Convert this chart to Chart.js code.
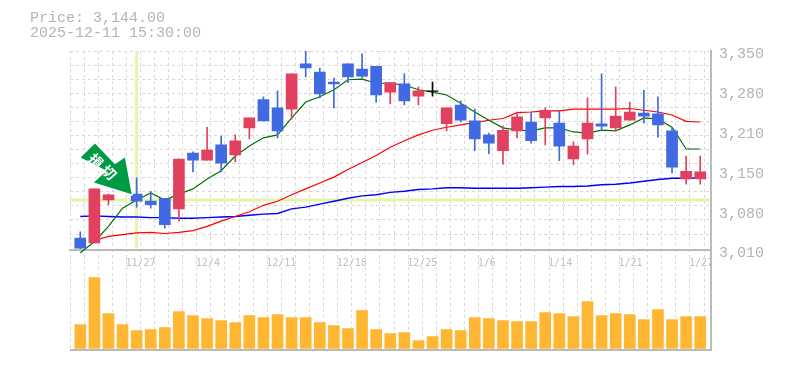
<!DOCTYPE html>
<html>
<head>
<meta charset="utf-8">
<style>html,body{margin:0;padding:0;background:#fff}#w{width:785px;height:370px}</style>
<script src="https://cdn.jsdelivr.net/npm/chart.js@4"></script>
</head>
<body>
<div id="w"><canvas id="c" width="785" height="370"></canvas></div>
<script>
const titleLines = ['Price: 3,144.00', '2025-12-11 15:30:00'];
const opens  = [3031,3023,3096,3115,3106,3094,3099,3081,3176,3164,3190,3173,3219,3267,3253,3251,3328,3314,3297,3328,3319,3324,3280,3294,3273,3282,3226,3258,3231,3207,3180,3214,3229,3236,3227,3166,3200,3226,3219,3232,3244,3243,3214,3132,3132];
const highs  = [3042,3115,3106,3144,3134,3111,3099,3166,3178,3220,3205,3207,3236,3272,3282,3311,3352,3321,3304,3328,3345,3324,3296,3311,3289,3297,3253,3265,3251,3210,3222,3246,3246,3253,3248,3195,3270,3311,3289,3263,3283,3272,3219,3171,3171];
const lows   = [3013,3023,3088,3111,3084,3082,3048,3060,3144,3164,3144,3161,3200,3231,3202,3234,3306,3270,3253,3296,3304,3263,3260,3258,3258,3273,3214,3229,3180,3175,3157,3202,3193,3190,3163,3156,3174,3214,3214,3232,3227,3203,3142,3123,3123];
const closes = [3014,3115,3105,3134,3094,3088,3054,3166,3164,3181,3159,3197,3236,3231,3214,3311,3321,3277,3294,3306,3307,3275,3296,3265,3282,3281,3253,3232,3200,3193,3215,3238,3197,3249,3188,3188,3227,3222,3239,3246,3239,3224,3152,3145,3144];
const maShort = [3006,3025,3051,3082,3096,3108,3096,3106,3115,3132,3146,3171,3188,3202,3207,3236,3263,3272,3284,3301,3302,3295,3295,3292,3284,3280,3275,3261,3246,3232,3219,3215,3214,3219,3219,3212,3210,3215,3214,3224,3236,3234,3220,3183,3183];
const maMid   = [null,3027,3034,3037,3040,3041,3039,3041,3044,3051,3060,3068,3076,3087,3094,3105,3115,3125,3135,3148,3160,3172,3186,3197,3207,3215,3220,3224,3228,3232,3235,3245,3246,3248,3248,3251,3251,3251,3251,3252,3249,3246,3241,3230,3229];
const maLong  = [3068,3069,3068,3067,3067,3066,3066,3065,3065,3066,3067,3068,3070,3072,3073,3081,3084,3089,3094,3099,3103,3105,3109,3111,3114,3115,3117,3117,3116,3116,3116,3116,3117,3118,3119,3119,3120,3122,3123,3125,3128,3131,3133,3133,3134];
const volumes = [24,71,35,24,18,19,21,37,33,30,28,26,33,31,34,31,31,26,23,20,38,19,15,16,8,12,19,18,31,30,28,27,27,36,35,32,47,33,35,34,29,39,29,32,32];
const priceTicks = [3350,3282,3214,3146,3078,3010];
const priceLabels = ['3,350','3,280','3,210','3,150','3,080','3,010'];
const gridPrices = [3350,3326,3302,3278,3254,3230,3206,3182,3158,3134,3110,3086,3062,3038];
const dateLabels = ['11/27','12/4','12/11','12/18','12/25','1/6','1/14','1/21','1/27'];
const markIndex = 4;
const markPrice = 3096;
const arrowLabel = '\u640D\u5207';

const X_MIN = -0.73, X_MAX = 44.73, Y_MIN = 2840.4, Y_MAX = 3350;
const idx = opens.map((_, i) => i);
const RED = '#e2405f', BLUE = '#4169e1', BLACK = '#000';
const candleColor = idx.map(i => Math.abs(closes[i]-opens[i]) <= 1 ? BLACK : (closes[i] > opens[i] ? RED : BLUE));
const MONO = '"Liberation Mono", monospace';

const lineDs = (data, color, width, order, extra) => Object.assign({
  type:'line', data, borderColor:color, borderWidth:width, pointRadius:0, tension:0,
  order, yAxisID:'y', xAxisID:'x', fill:false, spanGaps:false
}, extra||{});

const arrowPlugin = {
  id:'arrow',
  afterDatasetsDraw(chart){
    const ctx = chart.ctx, sx = chart.scales.x, sy = chart.scales.y;
    const tx = sx.getPixelForValue(markIndex) - 5;
    const ty = sy.getPixelForValue(opens[markIndex]);
    const pts = [[-51,-36.7],[-36.7,-50.7],[-16.7,-30],[-6.7,-36.7],[0,0],[-37.7,-11.7],[-25,-23.3]];
    ctx.save();
    ctx.translate(tx,ty);
    ctx.beginPath();
    pts.forEach((p,i)=> i ? ctx.lineTo(p[0],p[1]) : ctx.moveTo(p[0],p[1]));
    ctx.closePath();
    ctx.lineJoin='round';
    ctx.lineWidth=3;
    ctx.strokeStyle='#fff';
    ctx.stroke();
    ctx.fillStyle='#009944';
    ctx.fill();
    ctx.fillStyle='#fff';
    ctx.font='bold 14px "Noto Sans CJK JP"';
    ctx.textAlign='center';
    ctx.textBaseline='middle';
    const centers=[[-35.7,-33.3],[-22.4,-21.7]];
    [...arrowLabel].forEach((ch,i)=>{
      ctx.save();
      ctx.translate(centers[i][0],centers[i][1]);
      ctx.rotate(Math.PI/4);
      ctx.fillText(ch,0,0);
      ctx.restore();
    });
    ctx.restore();
  }
};

new Chart(document.getElementById('c'), {
  type:'bar',
  plugins:[arrowPlugin],
  data:{
    datasets:[
      {label:'body', data:idx.map(i=>({x:i,y:[opens[i],closes[i]]})), backgroundColor:candleColor, barThickness:11, grouped:false, order:1, yAxisID:'y', borderWidth:0},
      {label:'wick', data:idx.map(i=>({x:i,y:[lows[i],highs[i]]})), backgroundColor:candleColor, barThickness:1, grouped:false, order:2, yAxisID:'y', borderWidth:0},
      {label:'volume', data:idx.map(i=>({x:i,y:volumes[i]})), backgroundColor:'#ffb733', barThickness:11, grouped:false, order:3, yAxisID:'y2', borderWidth:0},
      lineDs(idx.map(i=>({x:i,y:maShort[i]})), '#007000', 1.2, 4, {clip:false}),
      lineDs(idx.map(i=>({x:i,y:maMid[i]})), '#ff0000', 1.2, 4),
      lineDs(idx.map(i=>({x:i,y:maLong[i]})), '#0000ff', 1.4, 4),
      lineDs([{x:X_MIN,y:markPrice},{x:X_MAX,y:markPrice}], '#e4f5aa', 3, 6),
      lineDs([{x:markIndex,y:3014},{x:markIndex,y:Y_MAX}], '#e4f5aa', 3, 6),
      lineDs([{x:X_MIN,y:Y_MIN},{x:X_MAX,y:Y_MIN}], '#bbbbbb', 2, 7, {clip:false})
    ]
  },
  options:{
    responsive:false,
    animation:false,
    events:[],
    layout:{padding:{left:30,right:0,top:0,bottom:20}},
    plugins:{
      legend:{display:false},
      tooltip:{enabled:false},
      title:{display:true,text:titleLines,align:'start',color:'#b4b4b4',
        font:{family:MONO,size:15,weight:'normal',lineHeight:1},
        padding:{top:10.5,bottom:10.5}}
    },
    scales:{
      x:{
        type:'linear', min:X_MIN, max:X_MAX, offset:false,
        position:{y:3010},
        afterBuildTicks(s){ s.ticks = Array.from({length:46},(_,k)=>({value:X_MIN+k})).concat([{value:X_MAX}]); },
        grid:{offset:false,color:'#d8d8d8',lineWidth:1,drawTicks:true,tickLength:7,tickColor:'rgba(0,0,0,0)'},
        border:{display:true,color:'#bbbbbb',width:2,dash:[3,3]},
        ticks:{autoSkip:false,maxRotation:0,minRotation:0,padding:0,color:'#c0c0c0',
          font:{family:'"DejaVu Sans Mono", monospace',size:10},
          callback(v,i){ return (i>0 && i%5===0 && dateLabels[i/5-1]) ? dateLabels[i/5-1].padEnd(5,' ') : ''; }}
      },
      y:{
        type:'linear', position:'right', min:Y_MIN, max:Y_MAX,
        afterBuildTicks(s){ s.ticks = gridPrices.concat(priceTicks.filter(p=>p!==3350)).map(v=>({value:v})); },
        afterFit(s){ s.width = 74.5; },
        grid:{drawTicks:false,lineWidth:1,color(c){ return (c.tick && gridPrices.includes(c.tick.value)) ? '#d8d8d8' : 'rgba(0,0,0,0)'; }},
        border:{display:true,color:'#bbbbbb',width:2,dash:[3,3]},
        ticks:{autoSkip:false,padding:8.5,labelOffset:3,color:'#b4b4b4',
          font:{family:MONO,size:15},
          callback(v){ const k=priceTicks.indexOf(v); return k>=0?priceLabels[k]:''; }}
      },
      y2:{
        type:'linear', position:'left', min:-1.5, max:297.5,
        afterFit(s){ s.width = 40; },
        grid:{display:false}, border:{display:false},
        ticks:{display:false}
      }
    }
  }
});
</script>
</body>
</html>
